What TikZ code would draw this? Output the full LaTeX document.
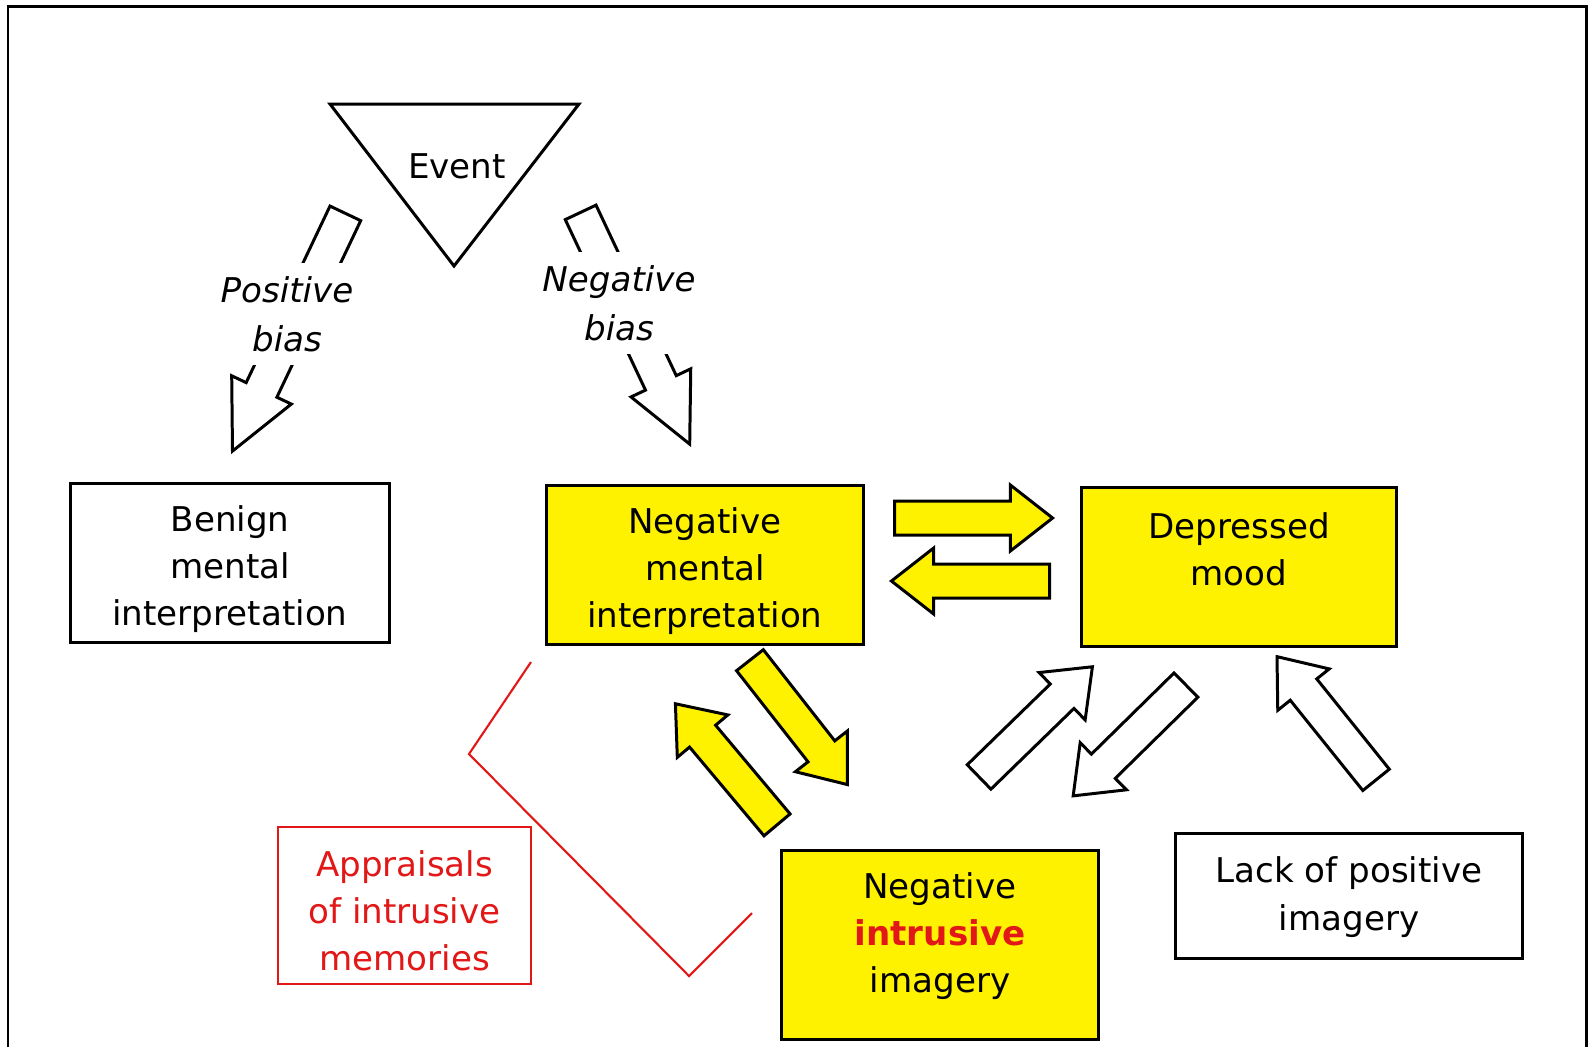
\documentclass[tikz,border=0pt]{standalone}
\usepackage{fontspec}
\setmainfont{DejaVu Sans}
\usepackage{tikz}
\usetikzlibrary{positioning, shapes.arrows}
\definecolor{apred}{RGB}{226,24,24}
\tikzset{
  box/.style={rectangle, draw=black, line width=0.85pt, inner sep=0pt},
  ybox/.style={box, fill=yellow},
  wbox/.style={box, fill=white},
  boxtext/.style={align=center, inner sep=0pt},
  blk/.style={single arrow, draw=black, line width=0.85pt, inner sep=0pt, inner ysep=1.55mm, anchor=tail,
    single arrow head extend=1.6mm, minimum width=6.3mm, single arrow tip angle=76, minimum height=1.58cm},
  yarrow/.style={blk, fill=yellow},
  warrow/.style={blk, fill=white},
  biasarrow/.style={blk, fill=white, single arrow tip angle=52},
  biastext/.style={fill=white, align=center, inner xsep=1mm, inner ysep=1.3mm, font=\fontsize{9.7}{13.9}\selectfont\itshape},
}

\begin{document}
\begin{tikzpicture}[x=0.01cm, y=-0.01cm, font=\fontsize{9.7}{13.4}\selectfont]
            \useasboundingbox (0,0) rectangle (1594,1047);
            \draw[line width=0.85pt] (8,1047) -- (8,6) -- (1586,6) -- (1586,1047);

            % event and the two biases
            \draw[line width=0.85pt] (330,104) -- (579,104) -- (454,266) -- cycle;
            \node (event) at (457,166) {Event};
            \node[biasarrow, minimum height=2.63cm, rotate=-115.4] (posarrow) at (346,212) {};
            \node[biastext] (posbias) at (287,314) {Positive\\bias};
            \node[biasarrow, minimum height=2.56cm, rotate=-64.8] (negarrow) at (580,211) {};
            \node[biastext] (negbias) at (619,303) {Negative\\bias};

            % boxes
            \node[wbox, minimum width=3.18cm, minimum height=1.58cm] (benign) at (230,563) {};
            \node[boxtext] (benigntext) at (230,569) {Benign\\mental\\interpretation};
            \node[ybox, minimum width=3.16cm, minimum height=1.58cm] (negint) at (705,565) {};
            \node[boxtext] (neginttext) at (705,571) {Negative\\mental\\interpretation};
            \node[ybox, minimum width=3.14cm, minimum height=1.58cm] (mood) at (1239,567) {};
            \node[boxtext] (moodtext) at (1239,549) {Depressed\\mood};
            \node[ybox, minimum width=3.16cm, minimum height=1.88cm] (intrusive) at (940,945) {};
            \node[boxtext] (intrusivetext) at (940,936) {Negative\\{\bfseries\color{apred}intrusive}\\imagery};
            \node[wbox, minimum width=3.46cm, minimum height=1.24cm] (lack) at (1349,896) {};
            \node[boxtext] (lacktext) at (1349,897) {Lack of positive\\imagery};
            \node[box, draw=apred, line width=0.7pt, minimum width=2.53cm, minimum height=1.57cm] (appraisal) at (404.5,905.5) {};
            \node[boxtext, text=apred] (appraisaltext) at (404.5,911) {Appraisals\\of intrusive\\memories};
            \draw[apred, line width=0.6pt] (531,662) -- (469,754) -- (689,976) -- (752,913);

            % block arrows
            \node[yarrow] (tomood) at (893,518) {};
            \node[yarrow, rotate=180] (frommood) at (1051,581) {};
            \node[yarrow, rotate=-51.9] (tointr) at (749,659) {};
            \node[yarrow, rotate=130] (fromintr) at (778,826) {};
            \node[warrow, rotate=44.2] (intrmood) at (978,778) {};
            \node[warrow, rotate=224.5] (moodintr) at (1187,684) {};
            \node[warrow, rotate=128.8] (lackmood) at (1377,781) {};
        \end{tikzpicture}
\end{document}
